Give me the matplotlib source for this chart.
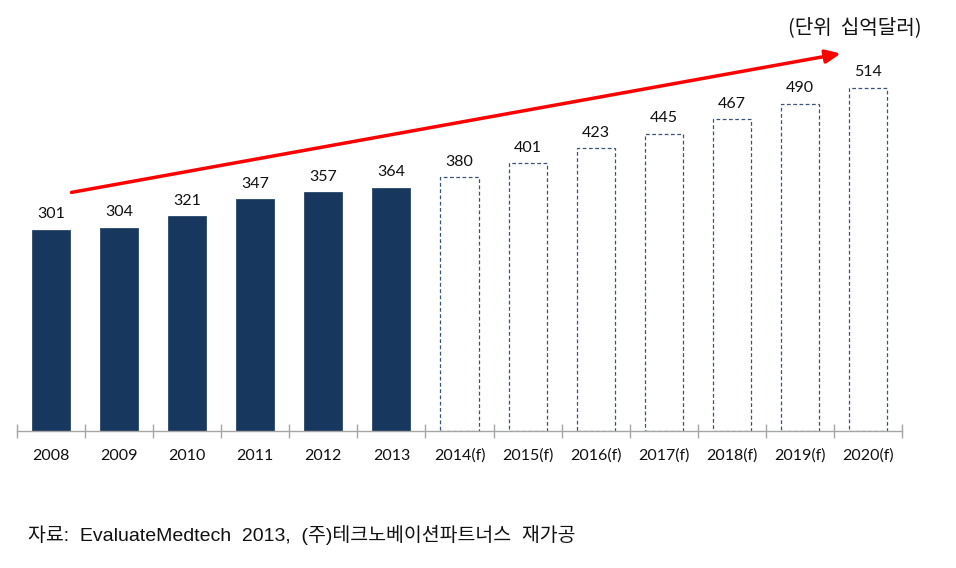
import matplotlib
matplotlib.use("Agg")
import matplotlib.pyplot as plt

years = ["2008", "2009", "2010", "2011", "2012", "2013",
         "2014(f)", "2015(f)", "2016(f)", "2017(f)", "2018(f)", "2019(f)", "2020(f)"]
values = [301, 304, 321, 347, 357, 364, 380, 401, 423, 445, 467, 490, 514]
is_forecast = [False] * 6 + [True] * 7

unit_text = "(단위  십억달러)"
source_text = "자료:  EvaluateMedtech  2013,  (주)테크노베이션파트너스  재가공"

plt.rcParams['font.family'] = ['Lato', 'Noto Sans CJK KR', 'DejaVu Sans']

fig = plt.figure(figsize=(9.56, 5.68), dpi=100)
ax = fig.add_axes([17/956, 1 - 430.7/568, (902-17)/956, 400.5/568])

navy = "#17375E"
x = list(range(len(years)))
for xi, v, f in zip(x, values, is_forecast):
    if f:
        ax.bar(xi, v, width=0.56, facecolor="white", edgecolor="#3A5478",
               linestyle=(0, (3, 2)), linewidth=0.9, zorder=2)
    else:
        ax.bar(xi, v, width=0.56, color=navy, edgecolor=navy, linewidth=0.5, zorder=2)
    ax.annotate(str(v), (xi, v), xytext=(0, 6), textcoords="offset points",
                ha="center", va="bottom", fontsize=11.5, color="#111111")

ax.set_xlim(-0.5, len(years) - 0.5)
ax.set_ylim(0, 600)

# growth arrow from first actual toward last forecast
ax.annotate("", xy=(11.6, 565), xytext=(0.3, 357),
            arrowprops=dict(arrowstyle="-|>,head_length=0.9,head_width=0.4",
                            color="#FF0000", lw=2.5, shrinkA=0, shrinkB=0),
            zorder=3)

for s in ["top", "right", "left"]:
    ax.spines[s].set_visible(False)
ax.spines["bottom"].set_color("#A6A6A6")
ax.spines["bottom"].set_linewidth(1.0)
ax.set_yticks([])

ax.set_xticks(x)
ax.set_xticklabels(years, fontsize=11.5, color="#111111")
ax.tick_params(axis="x", which="major", length=0, pad=13)
ax.set_xticks([i - 0.5 for i in range(len(years) + 1)], minor=True)
ax.tick_params(axis="x", which="minor", length=10, direction="inout", color="#A6A6A6", width=1)

fig.text(922/956, 1 - 28/568, unit_text, ha="right", va="center", fontsize=14.5,
         family=['Noto Sans CJK KR', 'DejaVu Sans'], color="#111111")
fig.text(28/956, 1 - 535/568, source_text, ha="left", va="center", fontsize=14,
         family=['Liberation Sans', 'Noto Sans CJK KR', 'DejaVu Sans'], color="#111111")

fig.savefig("out.png", dpi=100)
